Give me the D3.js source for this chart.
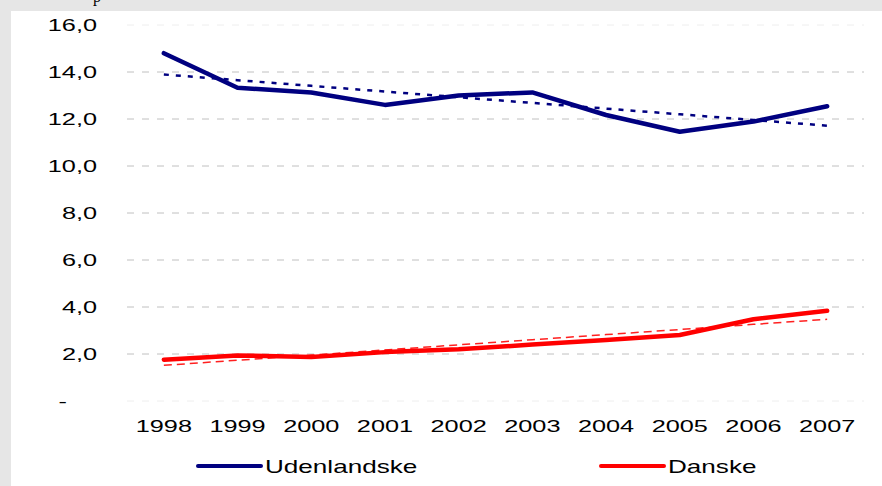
<html>
    <head>
        <title>Udenlandske og danske</title>
        <style>
            body { margin: 0; background: #fff; }
            svg text { font-family: "Liberation Sans", Arial, sans-serif; fill: #000; }
        </style>
    </head>

    <body>
        <div id="svghere"></div>

        <script src="https://d3js.org/d3.v7.min.js"></script>
        <script>
        // data
        var years = ['1998', '1999', '2000', '2001', '2002', '2003', '2004', '2005', '2006', '2007'];
        var udenlandske = [14.8, 13.33, 13.13, 12.6, 13.0, 13.13, 12.17, 11.46, 11.89, 12.54];
        var danske = [1.76, 1.94, 1.87, 2.08, 2.2, 2.4, 2.6, 2.81, 3.48, 3.84];
        var yTicks = [0, 2, 4, 6, 8, 10, 12, 14, 16];
        var seriesNames = ['Udenlandske', 'Danske'];

        var W = 882, H = 486;
        var stretch = 1.58; // the picture's text is wide

        var svg = d3.select('#svghere')
            .append('svg')
            .attr('width', W)
            .attr('height', H);

        // grey frame strip top and left
        svg.append('rect').attr('x', 0).attr('y', 0).attr('width', W).attr('height', 11).attr('fill', '#e6e6e6');
        svg.append('rect').attr('x', 0).attr('y', 0).attr('width', 11).attr('height', H).attr('fill', '#e6e6e6');

        // cut-off title, only the bottom of "p" shows
        svg.append('text')
            .attr('x', 93).attr('y', 1.5)
            .style('font-family', '"Liberation Serif", "Times New Roman", serif')
            .style('font-size', '16px')
            .text('p');

        var x = d3.scalePoint().domain(years).range([127, 864]).padding(0.5);
        var y = d3.scaleLinear().domain([0, 16]).range([401, 25]);

        // gridlines
        svg.append('g')
            .selectAll('line')
            .data(yTicks)
            .enter()
            .append('line')
            .attr('x1', 127)
            .attr('x2', 864)
            .attr('y1', function(d) { return y(d); })
            .attr('y2', function(d) { return y(d); })
            .style('stroke', function(d) { return (d === 0 || d === 16) ? '#eeeeee' : '#c0c0c0'; })
            .style('stroke-width', 1)
            .style('stroke-dasharray', '7,8');

        // y labels
        svg.append('g')
            .selectAll('text')
            .data(yTicks)
            .enter()
            .append('text')
            .attr('transform', function(d) {
                var tx = d === 0 ? 67 : 97;
                return 'translate(' + tx + ',' + (y(d) + 6) + ') scale(' + stretch + ',1)';
            })
            .attr('text-anchor', 'end')
            .style('font-size', '16px')
            .text(function(d) { return d === 0 ? '-' : d3.format('.1f')(d).replace('.', ','); });

        // x labels
        svg.append('g')
            .selectAll('text')
            .data(years)
            .enter()
            .append('text')
            .attr('transform', function(d) { return 'translate(' + x(d) + ',432) scale(' + stretch + ',1)'; })
            .attr('text-anchor', 'middle')
            .style('font-size', '16px')
            .text(function(d) { return d; });

        // linear trend (like the spreadsheet trendline)
        function trend(vals) {
            var n = vals.length, mx = (n - 1) / 2, my = d3.mean(vals), sxy = 0, sxx = 0;
            vals.forEach(function(v, i) { sxy += (i - mx) * (v - my); sxx += (i - mx) * (i - mx); });
            var b = sxy / sxx, a = my - b * mx;
            return vals.map(function(v, i) { return a + b * i; });
        }

        var line = d3.line()
            .x(function(d, i) { return x(years[i]); })
            .y(function(d) { return y(d); });

        svg.append('path')
            .attr('d', line(trend(udenlandske)))
            .attr('fill', 'none')
            .style('stroke', '#000080')
            .style('stroke-width', 2.5)
            .style('stroke-dasharray', '5,7');

        svg.append('path')
            .attr('d', line(trend(danske)))
            .attr('fill', 'none')
            .style('stroke', '#ff2020')
            .style('stroke-width', 1.5)
            .style('stroke-dasharray', '8,5');

        svg.append('path')
            .attr('d', line(udenlandske))
            .attr('fill', 'none')
            .style('stroke', '#000080')
            .style('stroke-width', 4.5)
            .style('stroke-linejoin', 'round')
            .style('stroke-linecap', 'round');

        svg.append('path')
            .attr('d', line(danske))
            .attr('fill', 'none')
            .style('stroke', '#ff0000')
            .style('stroke-width', 4.5)
            .style('stroke-linejoin', 'round')
            .style('stroke-linecap', 'round');

        // legend
        var legendX = [198, 601];
        var legendColors = ['#000080', '#ff0000'];
        var legend = svg.append('g')
            .selectAll('g')
            .data(seriesNames)
            .enter()
            .append('g')
            .attr('transform', function(d, i) { return 'translate(' + legendX[i] + ',466)'; });

        legend.append('line')
            .attr('x1', 0).attr('x2', 63)
            .attr('y1', 0).attr('y2', 0)
            .style('stroke', function(d, i) { return legendColors[i]; })
            .style('stroke-width', 4)
            .style('stroke-linecap', 'round');

        legend.append('text')
            .attr('transform', 'translate(67,6.5) scale(1.45,1)')
            .style('font-size', '18px')
            .text(function(d) { return d; });
        </script>
    </body>
</html>
